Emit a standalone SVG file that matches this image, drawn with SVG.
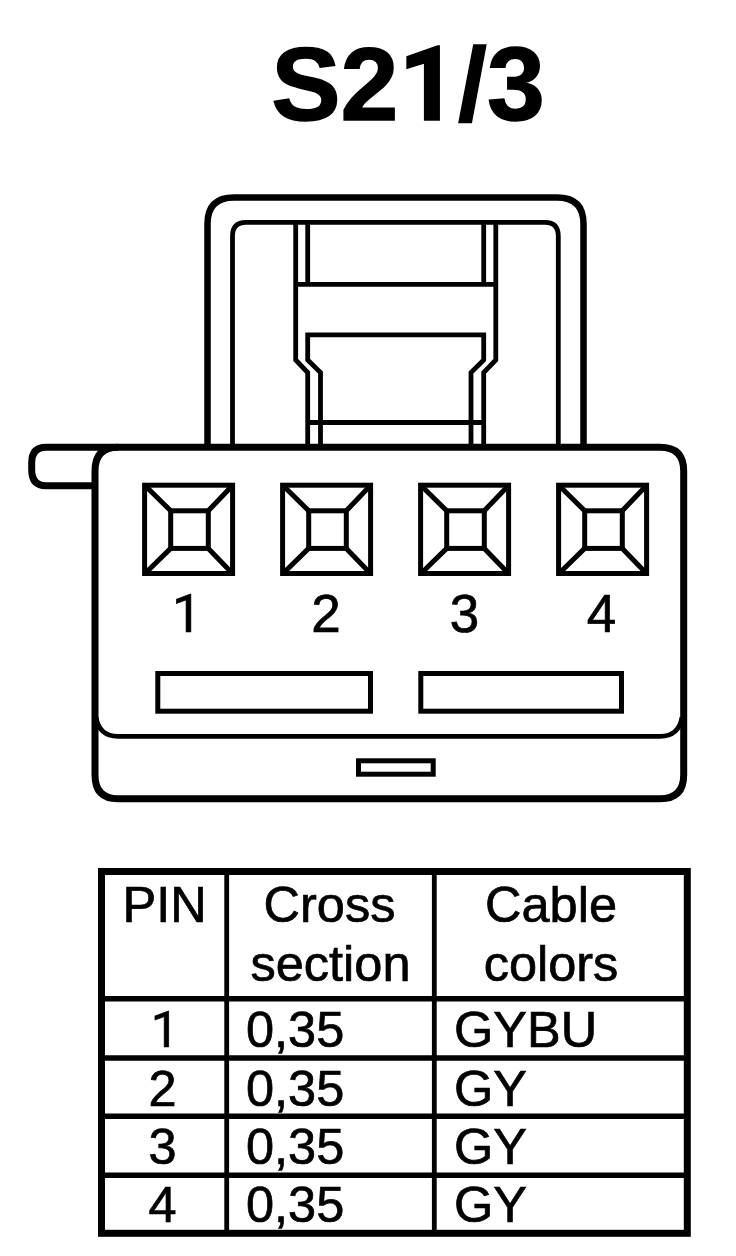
<svg xmlns="http://www.w3.org/2000/svg" width="736" height="1256" viewBox="0 0 736 1256">
<style>
.l{fill:none;stroke:#000;stroke-linejoin:miter}
.b{stroke-width:7}
.m{stroke-width:6.5}
.t{stroke-width:4.8}
.s{stroke-width:5}
text{font-family:"Liberation Sans",Arial,sans-serif;fill:#000;stroke:#000;stroke-width:.7}
.d{font-size:53px;text-anchor:middle}
.h{font-size:50.5px;text-anchor:middle}
.c{font-size:50.5px}
.one{font-family:Roboto,"Liberation Sans",sans-serif}
</style>
<defs>
<g id="pin">
<rect class="l s" x="144.6" y="485.2" width="88" height="88.3"/>
<rect class="l s" x="170.7" y="510.8" width="37.6" height="37.6"/>
<path class="l s" d="M145.5 486L170.7 510.8M232 486L208.3 510.8M145.5 573L170.7 548.4M232 573L208.3 548.4"/>
</g>
</defs>
<rect width="736" height="1256" fill="#fff"/>
<text id="title" x="408" y="120" font-size="104" font-weight="700" text-anchor="middle" style="stroke-width:1.4">S2<tspan class="one">1</tspan>/3</text>
<g id="latch">
<path class="l m" d="M207.5 447V224Q207.5 197.5 234 197.5H557Q583.5 197.5 583.5 224V447"/>
<path class="l t" d="M232.5 447V236Q232.5 222.3 246 222.3H545Q558.3 222.3 558.3 236V447"/>
<path class="l t" d="M295.7 222V360L307.7 372.5V447M495.8 222V360L483.7 372.5V447"/>
<path class="l t" d="M307.7 222V284M483.7 222V284M295.7 284.3H495.8"/>
<path class="l t" d="M320.5 447V372.5L307.7 360V334.8H483.7V360L471 372.5V447M307.7 422.5H483.7"/>
</g>
<g id="housing">
<path class="l b" d="M95 485.7H46Q31.7 485.7 31.7 470V463Q31.7 447.3 46 447.3H118"/>
<path class="l b" d="M118 447.3H660Q683.7 447.3 683.7 471V775Q683.7 798.8 660 798.8H118Q95 798.8 95 775V471Q95 447.3 118 447.3Z"/>
<path class="l t" d="M96 717Q99 736.3 118 736.3H660Q679 736.3 682 717"/>
<rect class="l s" x="157.8" y="673.5" width="212.7" height="37.7"/>
<rect class="l s" x="420.8" y="673.5" width="200.7" height="37.7"/>
<rect class="l s" x="358.5" y="760.8" width="74.7" height="13.4"/>
</g>
<g id="pin1"><use href="#pin"/><text class="d one" x="187" y="632">1</text></g>
<g id="pin2"><use href="#pin" x="138"/><text class="d" x="326" y="632">2</text></g>
<g id="pin3"><use href="#pin" x="276"/><text class="d" x="464.5" y="632">3</text></g>
<g id="pin4"><use href="#pin" x="414"/><text class="d" x="601.5" y="632">4</text></g>
<g id="table">
<rect class="l b" x="101.5" y="871.5" width="585.8" height="361.8"/>
<path class="l t" d="M226.7 871V1233M434.3 871V1233"/>
<path class="l" stroke-width="5.5" d="M101 998.8H687M101 1058H687M101 1116.3H687M101 1175.2H687"/>
<text class="c" x="122.5" y="922">PIN</text>
<text class="h" x="329.5" y="922">Cross</text>
<text class="h" x="330.5" y="981">section</text>
<text class="h" x="551" y="922">Cable</text>
<text class="h" x="551" y="981">colors</text>
<text class="h one" x="165" y="1046.7">1</text>
<text class="h" x="162.5" y="1105.7">2</text>
<text class="h" x="162.5" y="1164">3</text>
<text class="h" x="162.5" y="1222">4</text>
<text class="c" x="246" y="1046.7">0,35</text>
<text class="c" x="246" y="1105.7">0,35</text>
<text class="c" x="246" y="1164">0,35</text>
<text class="c" x="246" y="1222">0,35</text>
<text class="c" x="454" y="1046.7">GYBU</text>
<text class="c" x="454" y="1105.7">GY</text>
<text class="c" x="454" y="1164">GY</text>
<text class="c" x="454" y="1222">GY</text>
</g>
</svg>
